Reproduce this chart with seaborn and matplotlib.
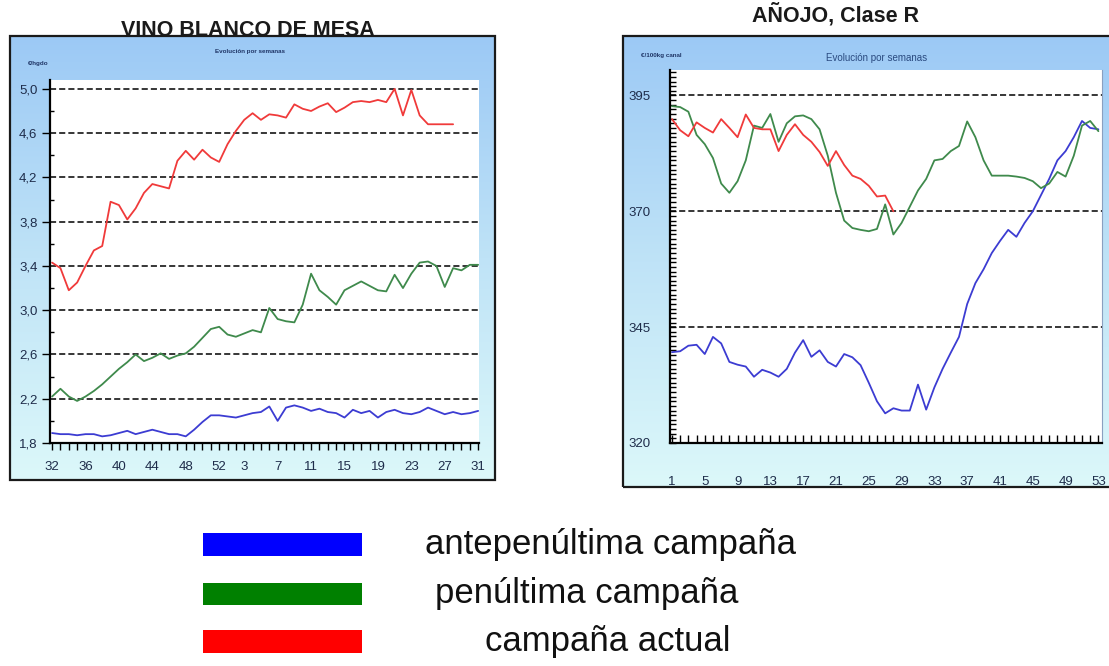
import numpy as np
import pandas as pd
import matplotlib
matplotlib.use('Agg')
import matplotlib.pyplot as plt
import seaborn as sns
from matplotlib.colors import LinearSegmentedColormap
from matplotlib.patches import Rectangle
from matplotlib.ticker import FixedLocator, MultipleLocator

# --- data: vino blanco de mesa (€/hgdo), semanas 32..52, 1..31
weeks_vino = list(range(32, 53)) + list(range(1, 32))
vino_ante = [1.89, 1.88, 1.88, 1.87, 1.88, 1.88, 1.86, 1.87, 1.89, 1.91, 1.88, 1.90, 1.92,
             1.90, 1.88, 1.88, 1.86, 1.92, 1.99, 2.05, 2.05, 2.04, 2.03, 2.05, 2.07, 2.08,
             2.13, 2.00, 2.12, 2.14, 2.12, 2.09, 2.11, 2.08, 2.07, 2.03, 2.10, 2.07, 2.09,
             2.03, 2.08, 2.10, 2.07, 2.06, 2.08, 2.12, 2.09, 2.06, 2.08, 2.06, 2.07, 2.09]
vino_pen = [2.22, 2.29, 2.22, 2.18, 2.22, 2.27, 2.33, 2.40, 2.47, 2.53, 2.60, 2.54, 2.57,
            2.61, 2.56, 2.59, 2.61, 2.67, 2.75, 2.83, 2.85, 2.78, 2.76, 2.79, 2.82, 2.80,
            3.02, 2.92, 2.90, 2.89, 3.05, 3.33, 3.18, 3.12, 3.05, 3.18, 3.22, 3.26, 3.22,
            3.18, 3.17, 3.32, 3.20, 3.33, 3.43, 3.44, 3.40, 3.21, 3.38, 3.36, 3.41, 3.41]
vino_act = [3.43, 3.38, 3.18, 3.25, 3.40, 3.54, 3.58, 3.98, 3.95, 3.82, 3.92, 4.06, 4.14,
            4.12, 4.10, 4.35, 4.44, 4.36, 4.45, 4.38, 4.34, 4.50, 4.62, 4.72, 4.78, 4.72,
            4.77, 4.76, 4.74, 4.86, 4.82, 4.80, 4.84, 4.87, 4.79, 4.83, 4.88, 4.89, 4.88,
            4.90, 4.88, 5.00, 4.76, 4.99, 4.76, 4.68, 4.68, 4.68, 4.68] + [np.nan] * 3
vino_xlabels = [32, 36, 40, 44, 48, 52, 3, 7, 11, 15, 19, 23, 27, 31]
vino_yticks = [1.8, 2.2, 2.6, 3.0, 3.4, 3.8, 4.2, 4.6, 5.0]

# --- data: añojo clase R (€/100kg canal), semanas 1..53
weeks_anojo = list(range(1, 54))
anojo_ante = [339.6, 339.8, 341.0, 341.2, 339.2, 342.9, 341.5, 337.5, 336.9, 336.5, 334.3,
              335.8, 335.2, 334.3, 336.0, 339.5, 342.2, 338.6, 340.0, 337.5, 336.5, 339.2,
              338.5, 336.8, 333.0, 329.0, 326.4, 327.5, 327.0, 327.0, 332.6, 327.2, 332.0,
              336.0, 339.5, 342.9, 350.0, 354.5, 357.5, 361.0, 363.6, 366.0, 364.5, 367.5,
              370.0, 373.5, 377.0, 381.0, 383.0, 386.0, 389.5, 388.0, 387.7]
anojo_pen = [392.7, 392.5, 391.5, 386.5, 384.5, 381.5, 376.0, 374.0, 376.5, 381.0, 388.5,
             388.0, 391.0, 385.0, 389.0, 390.5, 390.7, 389.9, 387.7, 382.0, 374.0, 368.0,
             366.4, 366.0, 365.7, 366.2, 371.5, 365.0, 367.5, 371.0, 374.5, 377.0, 381.0,
             381.3, 383.0, 384.1, 389.4, 386.0, 381.0, 377.7, 377.7, 377.7, 377.5, 377.2,
             376.5, 375.0, 376.0, 378.5, 377.5, 382.0, 388.5, 389.5, 387.3]
anojo_act = [389.9, 387.5, 386.2, 389.2, 388.0, 387.0, 389.9, 388.0, 386.0, 390.9, 388.0,
             387.7, 387.7, 383.0, 386.5, 388.8, 386.5, 385.0, 382.8, 379.8, 383.0, 380.0,
             377.7, 377.0, 375.5, 373.2, 373.4, 370.0] + [np.nan] * 25
anojo_xlabels = list(range(1, 54, 4))
anojo_yticks = [320, 345, 370, 395]

series_names = ['antepenúltima campaña', 'penúltima campaña', 'campaña actual']
legend_colors = ['#0000ff', '#008000', '#ff0000']
line_colors = ['#3c3cd2', '#3f8a4c', '#f03a3a']

W, H = 1109, 666


def box(x0, y0, x1, y1):
    # pixel box (top-left origin) -> figure fraction
    return [x0 / W, 1 - y1 / H, (x1 - x0) / W, (y1 - y0) / H]


sns.set_style('white')
plt.rcParams['font.family'] = ['Liberation Sans', 'DejaVu Sans']

fig = plt.figure(figsize=(W / 100, H / 100), dpi=100)
fig.patch.set_facecolor('white')

grad_cmap = LinearSegmentedColormap.from_list('panel', ['#9cc9f5', '#bfe3f7', '#dcf8fa'])
grad = np.linspace(0, 1, 256).reshape(-1, 1)


def panel(x0, y0, x1, y1):
    bg = fig.add_axes(box(x0, y0, x1, y1), zorder=-1)
    bg.imshow(grad, cmap=grad_cmap, aspect='auto', extent=(0, 1, 0, 1))
    bg.set_axis_off()
    bg.add_patch(Rectangle((0, 0), 1, 1, transform=bg.transAxes, fill=False,
                           ec='#1a1a1a', lw=1.6, clip_on=False))
    return bg


# title partly hidden behind the panel frame, as in the original
fig.text(248 / W, 1 - 31 / H, 'VINO BLANCO DE MESA', ha='center', va='center',
         fontsize=15.5, fontweight='bold', color='#1a1a1a', zorder=-2)
fig.text(835 / W, 1 - 15 / H, 'AÑOJO, Clase R', ha='center', va='center',
         fontsize=15.5, fontweight='bold', color='#1a1a1a')

panel(10, 36, 495, 480)
panel(623, 36, 1115, 487)

fig.text(250 / W, 1 - 52 / H, 'Evolución por semanas', ha='center', va='center',
         fontsize=4.5, fontweight='bold', color='#1f3566')
fig.text(38 / W, 1 - 63 / H, '€/hgdo', ha='center', va='center',
         fontsize=4.5, fontweight='bold', color='#1f3566')
fig.text(877 / W, 1 - 58 / H, 'Evolución por semanas', ha='center', va='center',
         fontsize=7, color='#2a4a80')
fig.text(661 / W, 1 - 55 / H, '€/100kg canal', ha='center', va='center',
         fontsize=4.5, fontweight='bold', color='#1f3566')

tick_color = '#1e2c4a'
grid_kw = dict(color='black', linestyle=(0, (4, 2)), lw=1.1)

# ---------- left chart
ax1 = fig.add_axes(box(50, 80, 479, 443))
ax1.set_facecolor('white')
pos = np.arange(len(weeks_vino))
for vals, c in zip([vino_ante, vino_pen, vino_act], line_colors):
    sns.lineplot(x=pos, y=vals, color=c, lw=1.3, ax=ax1)
ax1.set_xlim(-0.25, 51.1)
ax1.set_ylim(1.8, 5.08)
ax1.xaxis.set_major_locator(FixedLocator([weeks_vino.index(w) for w in vino_xlabels]))
ax1.set_xticklabels([str(w) for w in vino_xlabels])
ax1.xaxis.set_minor_locator(FixedLocator(pos))
ax1.set_yticks(vino_yticks)
ax1.set_yticklabels([f'{v:.1f}'.replace('.', ',') for v in vino_yticks])
ax1.yaxis.set_minor_locator(MultipleLocator(0.2))
for y in vino_yticks[1:]:
    ax1.axhline(y, **grid_kw, zorder=1)
ax1.tick_params(axis='x', which='both', direction='out', length=5, width=1, color='black',
                pad=8, labelsize=9.5, labelcolor=tick_color, bottom=True)
ax1.tick_params(axis='y', which='major', direction='out', length=6, width=1, color='black',
                pad=3, labelsize=9.5, labelcolor=tick_color, left=True)
ax1.tick_params(axis='y', which='minor', direction='in', length=3, width=1, color='black',
                left=True)
for s in ['top', 'right']:
    ax1.spines[s].set_visible(False)
for s in ['left', 'bottom']:
    ax1.spines[s].set_color('black')
    ax1.spines[s].set_linewidth(1.6)

# ---------- right chart
ax2 = fig.add_axes(box(670, 70, 1102, 443))
ax2.set_facecolor('white')
for vals, c in zip([anojo_ante, anojo_pen, anojo_act], line_colors):
    sns.lineplot(x=weeks_anojo, y=vals, color=c, lw=1.3, ax=ax2)
ax2.set_xlim(0.76, 53.44)
ax2.set_ylim(320.5, 400.5)
ax2.set_xticks(anojo_xlabels)
ax2.set_xticklabels([str(w) for w in anojo_xlabels])
ax2.xaxis.set_minor_locator(MultipleLocator(1))
ax2.set_yticks(anojo_yticks)
ax2.yaxis.set_minor_locator(MultipleLocator(1))
for y in anojo_yticks[1:]:
    ax2.axhline(y, **grid_kw, zorder=1)
ax2.tick_params(axis='x', which='both', direction='in', length=6, width=1, color='black',
                pad=24, labelsize=9.5, labelcolor=tick_color, bottom=True)
ax2.tick_params(axis='y', which='both', direction='in', length=4, width=1, color='black',
                pad=14, labelsize=9.5, labelcolor=tick_color, left=True)
ax2.spines['top'].set_visible(False)
ax2.spines['right'].set_color('#8aa0c0')
ax2.spines['right'].set_linewidth(0.8)
for s in ['left', 'bottom']:
    ax2.spines[s].set_color('black')
    ax2.spines[s].set_linewidth(1.6)

# ---------- legend
rect_rows = [(533, 556), (583, 605), (630, 653)]
text_x = [425, 435, 485]
for (y0, y1), c, name, tx in zip(rect_rows, legend_colors, series_names, text_x):
    fig.add_artist(Rectangle((203 / W, 1 - y1 / H), 159 / W, (y1 - y0) / H,
                             transform=fig.transFigure, fc=c, ec='none'))
    fig.text(tx / W, 1 - (y0 + y1) / 2 / H, name, ha='left', va='center',
             fontsize=25, color='#111111')

fig.savefig('out.png', dpi=100)
